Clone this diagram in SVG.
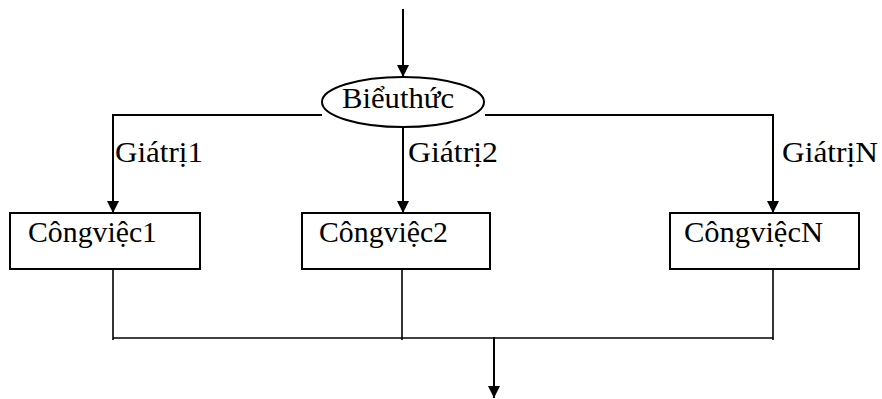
<svg xmlns="http://www.w3.org/2000/svg" width="882" height="399" viewBox="0 0 882 399">
<style>
.ln{stroke:#000;stroke-width:2;fill:none}
.thin{stroke:#000;stroke-width:1.6;fill:none}
.box{stroke:#000;stroke-width:2;fill:#fff}
.t{font-family:'Liberation Serif','Times New Roman',serif;font-size:29px;fill:#000}
</style>
<defs>
<marker id="a2" markerUnits="userSpaceOnUse" markerWidth="12" markerHeight="12" refX="12" refY="6" orient="auto" viewBox="0 0 12 12">
<path d="M0,0 L12,6 L0,12 Z" fill="#000"/>
</marker>
</defs>
<g id="connectors">
<line class="ln" x1="403" y1="9" x2="403" y2="77" marker-end="url(#a2)"/>
<polyline class="ln" points="322,115 113,115 113,213" marker-end="url(#a2)"/>
<line class="ln" x1="403" y1="128" x2="403" y2="213" marker-end="url(#a2)"/>
<polyline class="ln" points="485,115 773,115 773,213" marker-end="url(#a2)"/>
<polyline class="thin" points="113,269 113,340"/>
<polyline class="thin" points="402,269 402,340"/>
<polyline class="thin" points="773,269 773,340"/>
<line class="thin" x1="113" y1="338" x2="773" y2="338"/>
<line class="ln" x1="494" y1="337" x2="494" y2="398" marker-end="url(#a2)"/>
<text class="t" x="115" y="162" textLength="88" lengthAdjust="spacingAndGlyphs">Giátrị1</text>
<text class="t" x="408" y="162" textLength="90" lengthAdjust="spacingAndGlyphs">Giátrị2</text>
<text class="t" x="782" y="162" textLength="96" lengthAdjust="spacingAndGlyphs">GiátrịN</text>
</g>
<g id="expr">
<ellipse cx="403" cy="102" rx="81" ry="25" class="box"/>
<text class="t" x="342" y="108" textLength="112" lengthAdjust="spacingAndGlyphs">Biểuthức</text>
</g>
<g id="task1">
<rect x="10" y="213" width="190" height="56" class="box"/>
<text class="t" x="28" y="242" textLength="129" lengthAdjust="spacingAndGlyphs">Côngviệc1</text>
</g>
<g id="task2">
<rect x="302" y="213" width="188" height="56" class="box"/>
<text class="t" x="319" y="242" textLength="129" lengthAdjust="spacingAndGlyphs">Côngviệc2</text>
</g>
<g id="taskN">
<rect x="670" y="213" width="189" height="56" class="box"/>
<text class="t" x="684" y="242" textLength="139" lengthAdjust="spacingAndGlyphs">CôngviệcN</text>
</g>
</svg>
